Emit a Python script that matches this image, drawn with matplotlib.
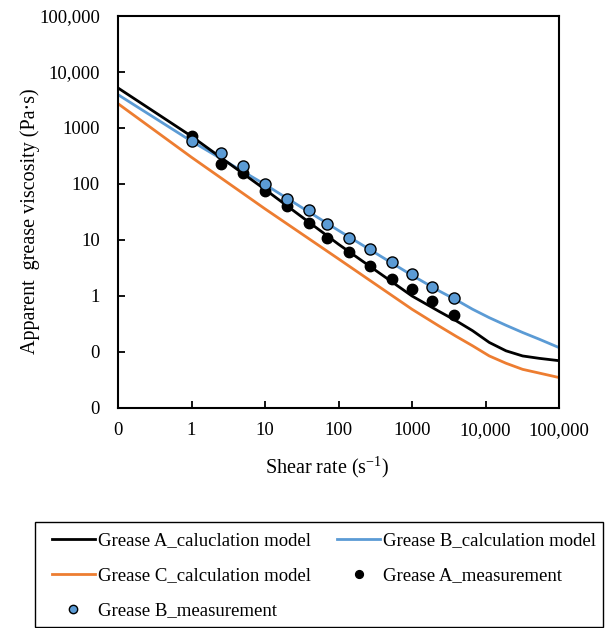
import matplotlib
matplotlib.use("Agg")
import matplotlib.pyplot as plt
from matplotlib.patches import Rectangle
from matplotlib.ticker import FixedLocator, FixedFormatter, NullLocator

plt.rcParams["font.family"] = ["Liberation Serif", "DejaVu Serif"]
plt.rcParams["mathtext.fontset"] = "custom"
plt.rcParams["mathtext.rm"] = "Liberation Serif"
plt.rcParams["mathtext.it"] = "Liberation Serif:italic"

# Model curves (shear rate in 1/s, viscosity in Pa·s)
model_rate = [0.1, 1, 10, 100, 1000, 2340, 4000, 6670, 11260, 19000, 32000, 54000, 100000]
grease_a_model = [5190, 711, 80, 8.4, 1.0, 0.53, 0.36, 0.24, 0.148, 0.105, 0.085, 0.077, 0.070]
grease_b_model = [3940, 580, 98, 14.8, 2.34, 1.23, 0.85, 0.58, 0.41, 0.30, 0.223, 0.169, 0.120]
grease_c_model = [2720, 300, 36, 4.6, 0.58, 0.29, 0.19, 0.129, 0.085, 0.063, 0.049, 0.042, 0.035]

# Measured points
meas_rate = [1, 2.5, 5, 10, 20, 40, 70, 140, 270, 530, 1000, 1900, 3700]
grease_a_meas = [720, 223, 158, 74, 41, 20.3, 10.8, 6.2, 3.5, 2.04, 1.32, 0.81, 0.45]
grease_b_meas = [580, 360, 208, 98, 54.5, 34, 19.2, 11.0, 6.8, 4.1, 2.44, 1.47, 0.91]

x_ticks = [0.1, 1, 10, 100, 1000, 10000, 100000]
x_tick_labels = ["0", "1", "10", "100", "1000", "10,000", "100,000"]
y_ticks = [0.01, 0.1, 1, 10, 100, 1000, 10000, 100000]
y_tick_labels = ["0", "0", "1", "10", "100", "1000", "10,000", "100,000"]

BLACK = "#000000"
BLUE = "#5B9BD5"
ORANGE = "#ED7D31"

W, H = 607, 628
fig = plt.figure(figsize=(W / 100, H / 100), dpi=100)
ax = fig.add_axes([118 / W, 1 - 408 / H, 441 / W, 392 / H])

la, = ax.plot(model_rate, grease_a_model, color=BLACK, lw=2.0,
              label="Grease A_caluclation model", zorder=3)
lb, = ax.plot(model_rate, grease_b_model, color=BLUE, lw=2.0,
              label="Grease B_calculation model", zorder=2)
lc, = ax.plot(model_rate, grease_c_model, color=ORANGE, lw=2.0,
              label="Grease C_calculation model", zorder=2)
ma, = ax.plot(meas_rate, grease_a_meas, ls="none", marker="o", ms=7.5,
              mfc=BLACK, mec=BLACK, label="Grease A_measurement", zorder=4)
mb, = ax.plot(meas_rate, grease_b_meas, ls="none", marker="o", ms=8,
              mfc=BLUE, mec=BLACK, mew=1.0, label="Grease B_measurement", zorder=5)

ax.set_xscale("log")
ax.set_yscale("log")
ax.set_xlim(0.1, 100000)
ax.set_ylim(0.01, 100000)

ax.xaxis.set_major_locator(FixedLocator(x_ticks))
ax.xaxis.set_major_formatter(FixedFormatter(x_tick_labels))
ax.yaxis.set_major_locator(FixedLocator(y_ticks))
ax.yaxis.set_major_formatter(FixedFormatter(y_tick_labels))
ax.xaxis.set_minor_locator(NullLocator())
ax.yaxis.set_minor_locator(NullLocator())

ax.tick_params(axis="both", which="major", direction="in", length=5, width=1.3,
               labelsize=13.5, colors=BLACK)
ax.tick_params(axis="x", pad=10, top=False)
ax.tick_params(axis="y", pad=13, right=False)
for sp in ax.spines.values():
    sp.set_linewidth(1.5)
    sp.set_color(BLACK)

ax.set_xlabel(r"Shear rate (s$^{\mathregular{-1}}$)", fontsize=14.5)
ax.set_ylabel("Apparent  grease viscosity (Pa·s)", fontsize=14.5)
ax.xaxis.set_label_coords((327 - 118) / 441, -(455 - 408) / 392)
ax.yaxis.set_label_coords((40 - 118) / 441, (408 - 221) / 392)

# Legend below the plot, entries laid out row by row
handles = [la, lc, mb, lb, ma]
leg = fig.legend(handles=handles, labels=[h.get_label() for h in handles],
                 ncol=2, loc="upper left",
                 bbox_to_anchor=(51.7 / W, 1 - 532 / H),
                 fontsize=13.5, frameon=False, handlelength=2.29,
                 handletextpad=0.18, labelspacing=0.96, borderaxespad=0,
                 borderpad=0, columnspacing=1.39, markerscale=0.75)

fig.patches.append(Rectangle((35 / W, 1 - 627 / H), (603 - 35) / W, (627 - 522) / H,
                             transform=fig.transFigure, fill=False,
                             edgecolor=BLACK, linewidth=1.0, zorder=0))

fig.savefig("out.png", dpi=100)
